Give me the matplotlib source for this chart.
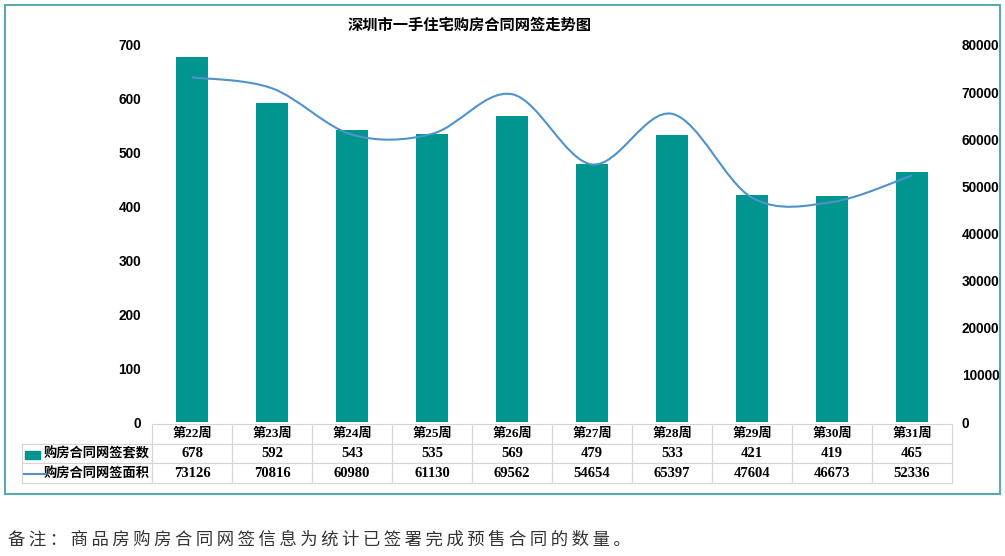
import numpy as np
import matplotlib
matplotlib.use('Agg')
import matplotlib.pyplot as plt
from matplotlib.path import Path
from matplotlib.patches import PathPatch, Rectangle
from matplotlib.lines import Line2D

plt.rcParams['font.family'] = ['Liberation Sans', 'Noto Sans CJK SC', 'DejaVu Sans']

# data
weeks = ['第22周', '第23周', '第24周', '第25周', '第26周', '第27周', '第28周', '第29周', '第30周', '第31周']
counts = [678, 592, 543, 535, 569, 479, 533, 421, 419, 465]
areas = [73126, 70816, 60980, 61130, 69562, 54654, 65397, 47604, 46673, 52336]
name_counts = '购房合同网签套数'
name_areas = '购房合同网签面积'
title = '深圳市一手住宅购房合同网签走势图'
note = '备注：商品房购房合同网签信息为统计已签署完成预售合同的数量。'

bar_col = '#00968F'
line_col = '#4F92CC'
W, H = 1005, 556

fig = plt.figure(figsize=(W / 100, H / 100), dpi=100)
ax = fig.add_axes([152 / W, 1 - 422 / H, 800 / W, 377 / H])
ax2 = ax.twinx()

x = np.arange(len(weeks))
ax.bar(x, counts, width=0.41, color=bar_col, zorder=2)
ax.set_xlim(-0.5, len(weeks) - 0.5)
ax.set_ylim(0, 700)
ax.set_yticks(range(0, 701, 100))
ax2.set_ylim(0, 80000)
ax2.set_yticks(range(0, 80001, 10000))

# smoothed line (bezier through the points, like excel smooth line)
pts = np.column_stack([x, areas]).astype(float)
verts = [pts[0]]
codes = [Path.MOVETO]
n = len(pts)
for i in range(n - 1):
    p0 = pts[max(i - 1, 0)]
    p1 = pts[i]
    p2 = pts[i + 1]
    p3 = pts[min(i + 2, n - 1)]
    verts += [p1 + (p2 - p0) / 6, p2 - (p3 - p1) / 6, p2]
    codes += [Path.CURVE4] * 3
ax2.add_patch(PathPatch(Path(verts, codes), fill=False, edgecolor=line_col, lw=1.5, zorder=3))

for a in (ax, ax2):
    for s in a.spines.values():
        s.set_visible(False)
    a.tick_params(length=0, labelsize=9.8)
    for lab in a.get_yticklabels():
        lab.set_fontweight('bold')
ax.tick_params(axis='y', pad=8)
ax2.tick_params(axis='y', pad=7)
ax.set_xticks([])

# data table
cell_text = [[name_counts] + [str(v) for v in counts],
             [name_areas] + [str(v) for v in areas]]
tbl = ax.table(cellText=cell_text, colLabels=[''] + weeks, cellLoc='center',
               colWidths=[130] + [80] * len(weeks),
               bbox=[-130 / 800, -61 / 377, 930 / 800, 59 / 377])
tbl.auto_set_font_size(False)
tbl.set_fontsize(9.5)
for (r, c), cell in tbl.get_celld().items():
    cell.set_edgecolor('#D4D4D4')
    cell.set_linewidth(0.8)
    txt = cell.get_text()
    txt.set_fontfamily(['Liberation Serif', 'Noto Sans CJK SC'])
    txt.set_fontweight('bold')
    if r > 0 and c > 0:
        txt.set_fontsize(10.5)
    if c == 0:
        cell._loc = 'right'
        cell.PAD = 0.015
        txt.set_ha('right')
tbl[0, 0].visible_edges = ''

# legend keys in the table
fig.add_artist(Rectangle((25 / W, 1 - 459 / H), 15 / W, 8 / H, color=bar_col, transform=fig.transFigure))
fig.add_artist(Line2D([24 / W, 45 / W], [1 - 474 / H] * 2, color=line_col, lw=1.5, transform=fig.transFigure))

# frame, title, note
fig.add_artist(Rectangle((5 / W, 1 - 494 / H), 995 / W, 489 / H, fill=False,
                         edgecolor='#5AAAAD', lw=1.5, transform=fig.transFigure))
fig.text(470 / W, 1 - 25 / H, title, ha='center', va='center', fontsize=11,
         fontweight='bold', family=['Noto Sans CJK SC'])
fig.text(8 / W, 1 - 540 / H, '\u2009'.join(note), ha='left', va='center', fontsize=12.5,
         color='#333333', family=['Noto Sans CJK SC', 'DejaVu Sans'])

fig.savefig('out.png', dpi=100)
